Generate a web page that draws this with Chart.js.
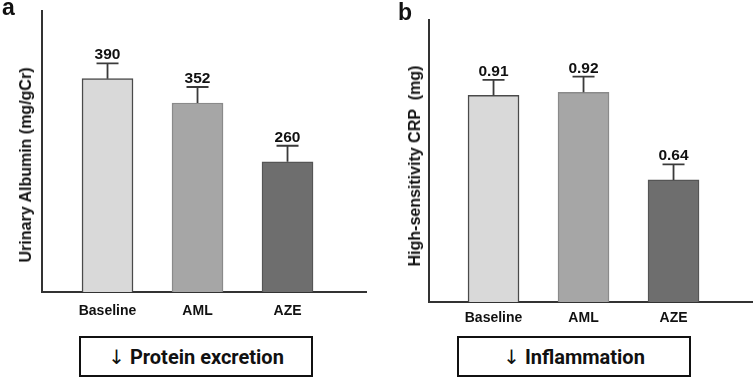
<!DOCTYPE html>
<html>
<head>
<meta charset="utf-8">
<script src="https://cdn.jsdelivr.net/npm/chart.js@4"></script>
<style>
  body { margin: 0; background: #fff; }
  #wrap { position: relative; width: 753px; height: 382px; font-family: "Liberation Sans", Arial, sans-serif; }
  .panel { position: absolute; top: 0; width: 376px; height: 335px; }
  .letter { position: absolute; font-weight: bold; font-size: 23px; line-height: 23px; color: #111; }
  .ytitle { position: absolute; font-weight: bold; font-size: 16px; color: #111; white-space: nowrap;
            transform: translate(-50%, -50%) rotate(-90deg); }
  .box { position: absolute; top: 336px; height: 37px; width: 230px; border: 2px solid #111;
         display: flex; align-items: center; justify-content: center;
         font-family: Roboto, sans-serif; font-weight: 700; font-size: 20px; color: #111; }
  .arrow { font-family: "DejaVu Sans", sans-serif; font-weight: normal; margin-right: 5px; }
</style>
</head>
<body>
<div id="wrap">
  <div class="panel" style="left:0"><canvas id="chartA"></canvas></div>
  <div class="panel" style="left:377px"><canvas id="chartB"></canvas></div>
  <div class="letter" style="left:2px;top:-4.5px">a</div>
  <div class="letter" style="left:398px;top:0.5px">b</div>
  <div class="ytitle" style="left:25.5px;top:165px">Urinary Albumin (mg/gCr)</div>
  <div class="ytitle" style="left:415px;top:165.5px">High-sensitivity CRP&nbsp; (mg)</div>
  <div class="box" style="left:79px"><span class="arrow">↓</span>Protein excretion</div>
  <div class="box" style="left:457px"><span class="arrow">↓</span>Inflammation</div>
</div>
<script>
const categories = ['Baseline', 'AML', 'AZE'];
const albumin = [390, 352, 260];
const albuminErr = [24, 25, 25];
const crp = [0.91, 0.92, 0.64];
const crpErr = [0.05, 0.05, 0.05];
const fillColors = ['#d9d9d9', '#a6a6a6', '#6e6e6e'];
const edgeColors = ['#4a4a4a', '#8a8a8a', '#555555'];

// error bars + value labels on top of each bar
const errorBarPlugin = {
  id: 'errorBars',
  afterDatasetsDraw(chart, args, opts) {
    const ctx = chart.ctx;
    const meta = chart.getDatasetMeta(0);
    const yScale = chart.scales.y;
    ctx.save();
    meta.data.forEach((bar, i) => {
      const v = opts.values[i];
      const capY = yScale.getPixelForValue(v + opts.errors[i]);
      ctx.strokeStyle = '#3a3a3a';
      ctx.lineWidth = 1.8;
      ctx.beginPath();
      ctx.moveTo(bar.x, bar.y);
      ctx.lineTo(bar.x, capY);
      ctx.moveTo(bar.x - 11, capY);
      ctx.lineTo(bar.x + 11, capY);
      ctx.stroke();
      ctx.fillStyle = '#111';
      ctx.font = 'bold 15.5px "Liberation Sans", Arial, sans-serif';
      ctx.textAlign = 'center';
      ctx.textBaseline = 'alphabetic';
      ctx.fillText(opts.format(v), bar.x, capY - 4);
    });
    ctx.restore();
  }
};

function drawPanel(id, values, errors, yMin, yMax, xMin, xMax, pad, xHeight, tickPad, format) {
  const ctx = document.getElementById(id);
  const config = {
    type: 'bar',
    data: {
      datasets: [{
        data: values.map((v, i) => ({ x: i, y: v })),
        backgroundColor: fillColors,
        borderColor: edgeColors,
        borderWidth: 1.5,
        barThickness: 51
      }]
    },
    options: {
      responsive: true,
      maintainAspectRatio: false,
      animation: false,
      layout: { padding: pad },
      plugins: {
        legend: { display: false },
        tooltip: { enabled: false },
        errorBars: { values: values, errors: errors, format: format }
      },
      scales: {
        x: {
          type: 'linear',
          offset: false,
          min: xMin,
          max: xMax,
          grid: { display: false, drawTicks: false, offset: false },
          border: { display: true, color: '#333', width: 2 },
          afterBuildTicks: (s) => { s.ticks = categories.map((c, i) => ({ value: i })); },
          afterFit: (s) => { s.height = xHeight; },
          ticks: {
            autoSkip: false,
            maxRotation: 0,
            padding: tickPad,
            color: '#111',
            font: { family: '"Liberation Sans", Arial, sans-serif', size: 14, weight: 'bold' },
            callback: (v) => categories[v]
          }
        },
        y: {
          min: yMin,
          max: yMax,
          grid: { display: false, drawTicks: false },
          border: { display: true, color: '#333', width: 2 },
          ticks: { display: false },
          afterFit: (s) => { s.width = pad.yWidth; }
        }
      }
    },
    plugins: [errorBarPlugin]
  };
  return new Chart(ctx, config);
}

drawPanel('chartA', albumin, albuminErr, 56, 496, -0.728, 2.872,
  { top: 11, right: 10, left: 0, bottom: 0, yWidth: 42 }, 43, 11, (v) => String(v));
drawPanel('chartB', crp, crpErr, 0.25, 1.151, -0.717, 2.872,
  { top: 20, right: 1, left: 0, bottom: 0, yWidth: 52 }, 33, 8, (v) => v.toFixed(2));
</script>
</body>
</html>
